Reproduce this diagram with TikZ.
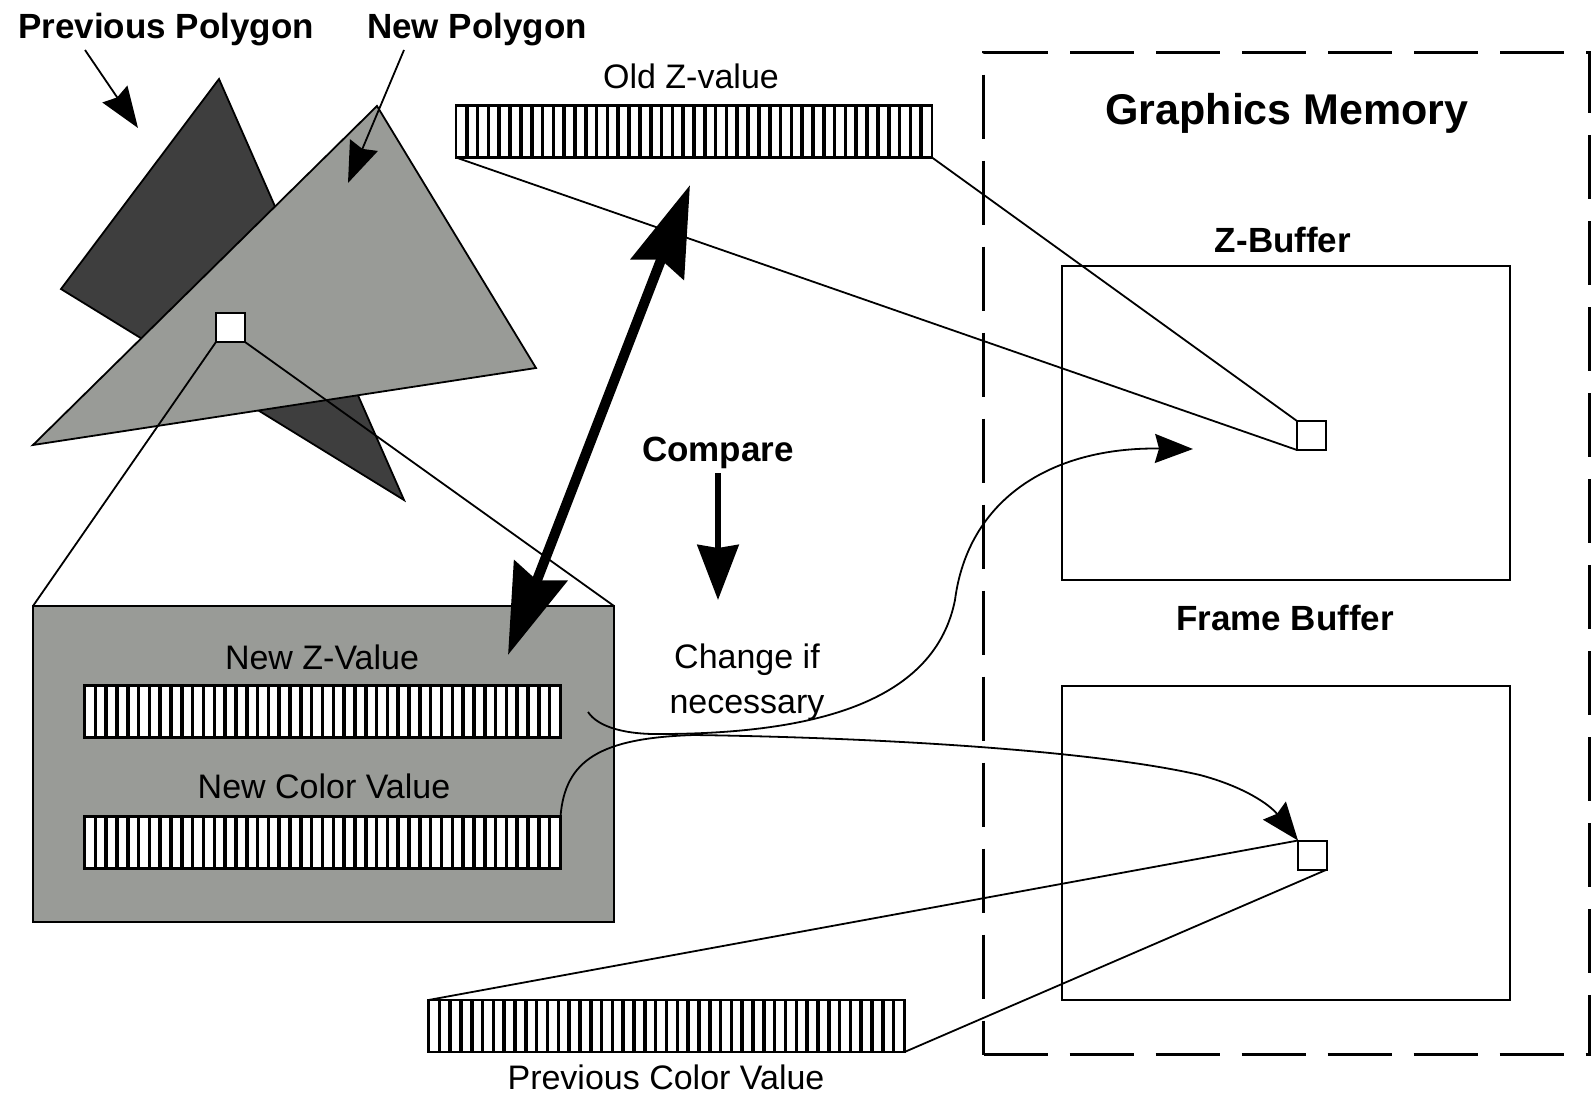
\documentclass[tikz,border=0pt]{standalone}
\usepackage{fontspec}
\setmainfont{Liberation Sans}
\usetikzlibrary{arrows.meta,calc}
\definecolor{darkpoly}{RGB}{62,62,62}
\definecolor{lightpoly}{RGB}{153,155,151}
\begin{document}
\begin{tikzpicture}[x=1pt,y=-1pt,
  thinline/.style={draw=black,line width=1.8pt},
  boxline/.style={draw=black,line width=2.5pt},
  lbl/.style={font=\fontsize{34}{40}\selectfont, inner sep=0pt, anchor=base},
  blbl/.style={font=\fontsize{35}{42}\selectfont\bfseries, inner sep=0pt, anchor=base},
  sq/.style={draw=black, fill=white, line width=2pt, minimum size=29pt, inner sep=0pt, outer sep=0pt},
  buf/.style={boxline, fill=white, minimum width=448pt, minimum height=314pt, inner sep=0pt, outer sep=0pt, anchor=north west},
  bar/.style={draw=black, line width=2.5pt, fill=white, minimum width=476pt, minimum height=52pt, inner sep=0pt, outer sep=0pt,
    path picture={\foreach \i in {1,...,43}{\draw[line width=3.6pt] ($(path picture bounding box.north west)!\i/44!(path picture bounding box.north east)$) -- ($(path picture bounding box.south west)!\i/44!(path picture bounding box.south east)$);}}},
  smalltip/.style={-{Stealth[length=41pt,width=30pt,inset=4pt]}},
  curvetip/.style={-{Stealth[length=38pt,width=29pt,inset=4pt]}},
  bigtip/.style={{Stealth[length=90pt,width=56pt,inset=10pt]}-{Stealth[length=90pt,width=56pt,inset=10pt]}}
]
\useasboundingbox (0,0) rectangle (1591,1095);
\fill[white] (0,0) rectangle (1591,1095);

% Graphics memory (dashed)
\node[draw=black, dash pattern=on 64pt off 22pt, line width=3pt, minimum width=606pt, minimum height=1002pt, inner sep=0pt, anchor=north west] (mem) at (982,51) {};
\node[font=\fontsize{43}{50}\selectfont\bfseries, inner sep=0pt, anchor=base] (memlbl) at (1287,124) {Graphics Memory};

% buffers
\node[buf] (zbuf) at (1062,266) {};
\node[buf] (fbuf) at (1062,686) {};
\node[blbl] (zbuflbl) at (1283,252) {Z-Buffer};
\node[blbl] (fbuflbl) at (1285,630) {Frame Buffer};

% polygons
\coordinate (dA) at (219,79);
\coordinate (dB) at (61,289);
\coordinate (dC) at (404,500);
\coordinate (lA) at (377,106);
\coordinate (lB) at (536,368);
\coordinate (lC) at (33,445);
\filldraw[fill=darkpoly, thinline] (dA) -- (dB) -- (dC) -- cycle;
\filldraw[fill=lightpoly, thinline] (lA) -- (lB) -- (lC) -- cycle;

% new pixel box
\node[boxline, fill=lightpoly, anchor=north west, minimum width=581pt, minimum height=316pt, inner sep=0pt, outer sep=0pt] (newbox) at (33,606) {};
\node[sq] (psq) at (230.5,327.5) {};
\draw[thinline] (psq.south west) -- (newbox.north west);
\draw[thinline] (psq.south east) -- (newbox.north east);

% labels of polygons
\node[blbl] (prevlbl) at (166,38) {Previous Polygon};
\node[blbl] (newlbl) at (477,38) {New Polygon};
\coordinate (pa0) at (85,50);
\coordinate (pa1) at (138,128);
\coordinate (na0) at (404,50);
\coordinate (na1) at (348,183);
\draw[thinline, smalltip] (pa0) -- (pa1);
\draw[thinline, smalltip] (na0) -- (na1);

% bars
\node[lbl] (oldlbl) at (691,88) {Old Z-value};
\node[bar] (oldbar) at (694,131.5) {};
\node[lbl] (newzlbl) at (322,669) {New Z-Value};
\node[bar] (zbar) at (322.5,711.5) {};
\node[lbl] (newclbl) at (324,798) {New Color Value};
\node[bar] (cbar) at (322.5,842.5) {};
\node[bar] (pbar) at (666.5,1026) {};
\node[lbl] (prevclbl) at (666,1089) {Previous Color Value};

% pixel squares in memory
\node[sq] (zsq) at (1311.5,435.5) {};
\node[sq] (fsq) at (1312.5,855) {};

% projection lines
\draw[thinline] (oldbar.south west) -- (zsq.south west);
\draw[thinline] (oldbar.south east) -- (zsq.north west);
\draw[thinline] (pbar.north west) -- (fsq.north west);
\draw[thinline] (pbar.south east) -- (fsq.south east);

% compare
\coordinate (dt) at (690,185);
\coordinate (db) at (508,655);
\draw[line width=10pt, bigtip] (dt) -- (db);
\node[blbl] (cmp) at (718,461) {Compare};
\coordinate (cmp0) at (718,473);
\coordinate (cmp1) at (718,600);
\draw[line width=6pt, -{Stealth[length=55pt,width=41pt,inset=3pt]}] (cmp0) -- (cmp1);
\node[lbl] (chg1) at (747,668) {Change if};
\node[lbl] (chg2) at (747,713) {necessary};

% curves
\coordinate (a0) at (588,712);
\coordinate (atip) at (1193,449);
\draw[thinline, curvetip] (a0) .. controls (598,727) and (625,735) .. (665,734)
  .. controls (820,733) and (935,700) .. (955,600)
  .. controls (968,500) and (1050,447) .. (atip);
\draw[thinline, curvetip] (cbar.north east) .. controls (565,760) and (600,738) .. (694,735)
  .. controls (900,738) and (1100,752) .. (1200,775)
  .. controls (1245,787) and (1270,805) .. (fsq.north west);
\end{tikzpicture}
\end{document}
